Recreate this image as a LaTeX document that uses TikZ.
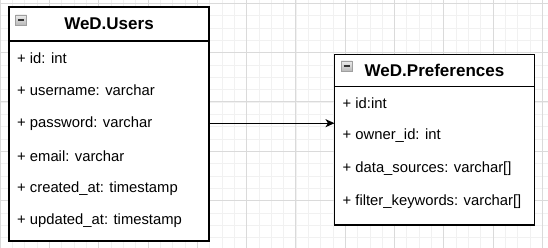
\documentclass[tikz,border=0pt]{standalone}
\usepackage{fontspec}
\setmainfont{Liberation Sans}
\usetikzlibrary{positioning}
\usetikzlibrary{arrows.meta}

\definecolor{gridminor}{HTML}{F1F1F1}
\definecolor{gridmajor}{HTML}{DADADA}

\tikzset{
  head/.style={draw, line width=1.2pt, fill=white, outer sep=0pt, inner sep=0pt,
    minimum width=200pt, font=\fontsize{17}{20}\selectfont\bfseries},
  body/.style={draw, line width=1.2pt, fill=white, outer sep=0pt, inner sep=0pt,
    minimum width=200pt},
  field/.style={anchor=west, inner sep=0pt, font=\fontsize{14.8}{17}\selectfont},
  toggle/.style={draw=gray!75, line width=0.6pt, top color=gray!15, bottom color=gray!55,
    minimum width=11pt, minimum height=10pt, inner sep=0pt,
    path picture={\draw[line width=1.4pt, black!80]
      ([xshift=2.5pt]path picture bounding box.west) --
      ([xshift=-2.5pt]path picture bounding box.east);}},
  link/.style={line width=1.2pt, -{Stealth[length=9pt, width=8pt, inset=2.5pt]}}
}

\begin{document}
\begin{tikzpicture}[x=1pt, y=-1pt]
            \useasboundingbox (0,0) rectangle (548,248);
            % background grid
            \foreach \i in {0,...,44}
              \draw[gridminor, line width=0.8pt] (\i*12.33,0) -- (\i*12.33,248);
            \foreach \i in {0,...,19}
              \draw[gridminor, line width=0.8pt] (0,3.3+\i*12.33) -- (548,3.3+\i*12.33);
            \foreach \i in {0,...,11}
              \draw[gridmajor, line width=0.8pt] (\i*49.3,0) -- (\i*49.3,248);
            \foreach \i in {0,...,5}
              \draw[gridmajor, line width=0.8pt] (0,3.3+\i*49.3) -- (548,3.3+\i*49.3);

            % WeD.Users
            \node[head, minimum height=34pt] (users) at (109,24) {WeD.Users};
            \node[body, minimum height=200pt, below=0pt of users] (usersBody) {};
            \node[toggle] (usersToggle) at (21,20) {};
            \foreach \t [count=\i] in {{+ id: int}, {+ username: varchar},
                {+ password: varchar}, {+ email: varchar},
                {+ created\_at: timestamp}, {+ updated\_at: timestamp}}
              \node[field] (u\i) at (17,25.4+\i*32.6) {\t};

            % WeD.Preferences
            \node[head, minimum height=32pt] (prefs) at (434.5,70.5) {WeD.Preferences};
            \node[body, minimum height=138.5pt, below=0pt of prefs] (prefsBody) {};
            \node[toggle] (prefsToggle) at (346.5,66) {};
            \foreach \t [count=\i] in {{+ id:int}, {+ owner\_id: int},
                {+ data\_sources: varchar[]}, {+ filter\_keywords: varchar[]}}
              \node[field] (p\i) at (342.5,70+\i*33) {\t};

            \draw[link] (usersBody.east |- u3) -- (prefsBody.west |- u3);
        \end{tikzpicture}
\end{document}
